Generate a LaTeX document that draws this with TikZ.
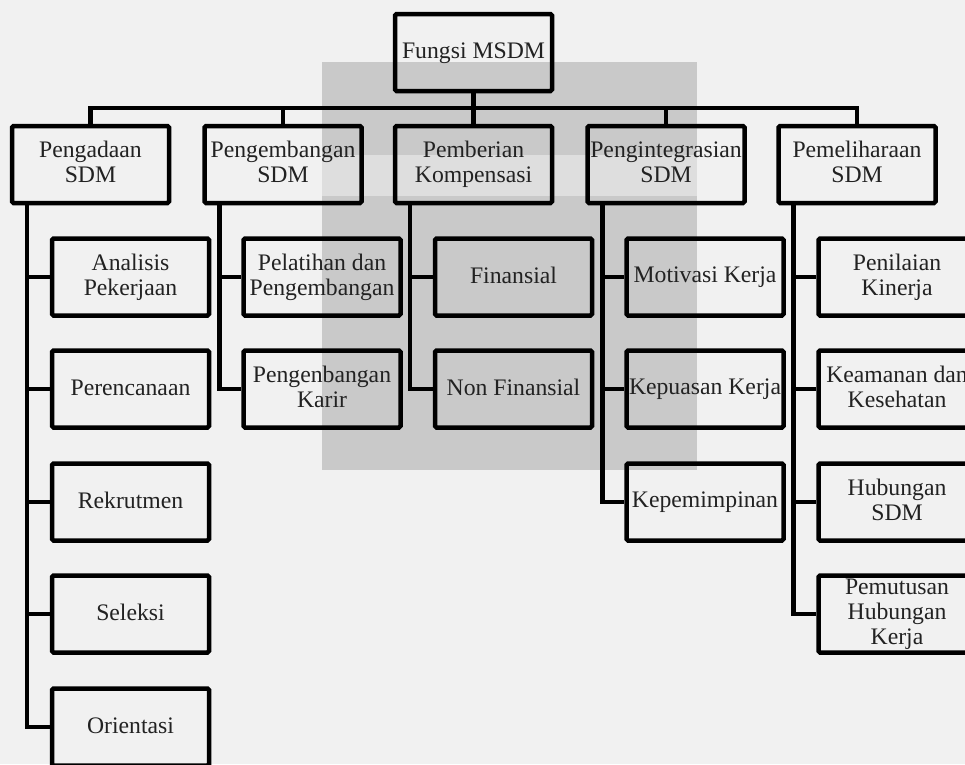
\documentclass[tikz,border=0pt]{standalone}
\usepackage{fontspec}
\setmainfont{Liberation Serif}
\definecolor{bg}{HTML}{F1F1F1}
\definecolor{wm}{HTML}{C9C9C9}
\definecolor{wmband}{HTML}{DEDEDE}
\definecolor{txt}{HTML}{222222}
\newcommand\boxstrut{\rule[-5pt]{0pt}{22pt}}
\begin{document}
\begin{tikzpicture}[x=1pt,y=-1pt,
  box/.style={draw=black, line width=4.5pt, rounded corners=1.5pt,
    minimum width=157pt, minimum height=77pt, inner sep=0pt,
    align=center, text=txt, font=\fontsize{23.7}{25}\selectfont,
    execute at begin node=\boxstrut, execute at end node=\boxstrut},
  link/.style={draw=black, line width=4.5pt}]
\useasboundingbox (0,0) rectangle (965,764);
\fill[bg] (0,0) rectangle (965,764);
% watermark shading
\fill[wm] (322,62) rectangle (697,470);
\fill[wmband] (322,155) rectangle (697,196);

% root
\node[box] (root) at (473.5,52.5) {Fungsi MSDM};
% level 2
\node[box] (p1) at (90.5,164.5) {Pengadaan\\SDM};
\node[box] (p2) at (283,164.5) {Pengembangan\\SDM};
\node[box] (p3) at (473.5,164.5) {Pemberian\\Kompensasi};
\node[box] (p4) at (666,164.5) {Pengintegrasian\\SDM};
\node[box] (p5) at (857,164.5) {Pemeliharaan\\SDM};

% column 1
\node[box] (c11) at (130.5,277) {Analisis\\Pekerjaan};
\node[box] (c12) at (130.5,389) {Perencanaan};
\node[box] (c13) at (130.5,502) {Rekrutmen};
\node[box] (c14) at (130.5,614) {Seleksi};
\node[box] (c15) at (130.5,727) {Orientasi};
% column 2
\node[box] (c21) at (322,277) {Pelatihan dan\\Pengembangan};
\node[box] (c22) at (322,389) {Pengenbangan\\Karir};
% column 3
\node[box] (c31) at (513.5,277) {Finansial};
\node[box] (c32) at (513.5,389) {Non Finansial};
% column 4
\node[box] (c41) at (705,277) {Motivasi Kerja};
\node[box] (c42) at (705,389) {Kepuasan Kerja};
\node[box] (c43) at (705,502) {Kepemimpinan};
% column 5
\node[box] (c51) at (897,277) {Penilaian\\Kinerja};
\node[box] (c52) at (897,389) {Keamanan dan\\Kesehatan};
\node[box] (c53) at (897,502) {Hubungan\\SDM};
\node[box] (c54) at (897,614) {Pemutusan\\Hubungan\\Kerja};

% bus
\coordinate (bus) at (473.5,108);
\draw[link] (root.south) -- (root.south |- bus);
\draw[link] (p1.north) -- (p1.north |- bus) -- (p5.north |- bus) -- (p5.north);
\foreach \p in {p2,p3,p4} \draw[link] (\p.north) -- (\p.north |- bus);

% children connectors
\foreach \c in {c11,c12,c13,c14,c15} \draw[link] ([xshift=17pt]p1.south west) |- (\c.west);
\foreach \c in {c21,c22} \draw[link] ([xshift=17pt]p2.south west) |- (\c.west);
\foreach \c in {c31,c32} \draw[link] ([xshift=17pt]p3.south west) |- (\c.west);
\foreach \c in {c41,c42,c43} \draw[link] ([xshift=17pt]p4.south west) |- (\c.west);
\foreach \c in {c51,c52,c53,c54} \draw[link] ([xshift=17pt]p5.south west) |- (\c.west);
\end{tikzpicture}
\end{document}
